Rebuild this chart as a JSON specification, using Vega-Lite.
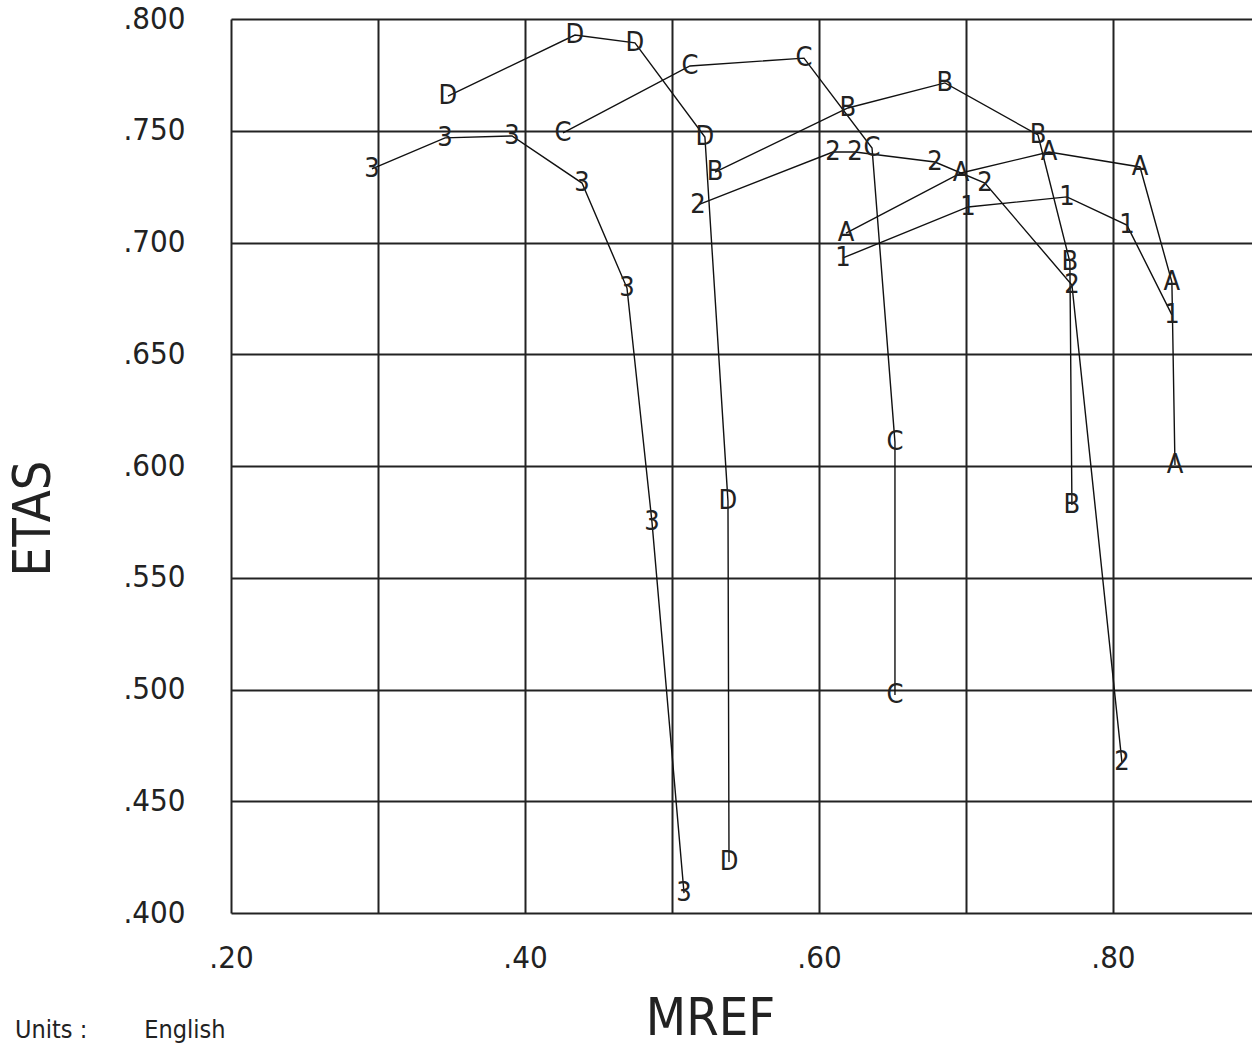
{
  "$schema": "https://vega.github.io/schema/vega-lite/v6.json",
  "autosize": "none",
  "width": 1021,
  "height": 894,
  "padding": {"left": 231, "top": 19, "right": 0, "bottom": 133},
  "background": "white",
  "config": {
    "view": {"stroke": null},
    "font": "Liberation Sans Narrow, DejaVu Sans Condensed, Roboto Condensed, Roboto, sans-serif"
  },
  "title": {
    "text": "Units :\u00a0\u00a0\u00a0\u00a0\u00a0\u00a0\u00a0 English",
    "orient": "bottom",
    "anchor": "start",
    "frame": "group",
    "dx": -216,
    "dy": -26,
    "offset": 0,
    "fontSize": 25,
    "fontWeight": "normal",
    "color": "#222"
  },
  "data": {
    "values": [
      {"s": "1", "i": 1, "x": 0.6163, "y": 0.6931},
      {"s": "1", "i": 2, "x": 0.7014, "y": 0.7159},
      {"s": "1", "i": 3, "x": 0.7687, "y": 0.7204},
      {"s": "1", "i": 4, "x": 0.8095, "y": 0.7078},
      {"s": "1", "i": 5, "x": 0.8401, "y": 0.6676},
      {"s": "2", "i": 1, "x": 0.5177, "y": 0.7168},
      {"s": "2", "i": 2, "x": 0.6095, "y": 0.7405},
      {"s": "2", "i": 3, "x": 0.6245, "y": 0.7405},
      {"s": "2", "i": 4, "x": 0.6789, "y": 0.736},
      {"s": "2", "i": 5, "x": 0.7129, "y": 0.7266},
      {"s": "2", "i": 6, "x": 0.7721, "y": 0.681},
      {"s": "2", "i": 7, "x": 0.8061, "y": 0.4676},
      {"s": "3", "i": 1, "x": 0.2959, "y": 0.7329},
      {"s": "3", "i": 2, "x": 0.3456, "y": 0.7468},
      {"s": "3", "i": 3, "x": 0.3912, "y": 0.7477},
      {"s": "3", "i": 4, "x": 0.4388, "y": 0.7266},
      {"s": "3", "i": 5, "x": 0.4694, "y": 0.6796},
      {"s": "3", "i": 6, "x": 0.4864, "y": 0.5749},
      {"s": "3", "i": 7, "x": 0.5082, "y": 0.4089},
      {"s": "A", "i": 1, "x": 0.6184, "y": 0.7042},
      {"s": "A", "i": 2, "x": 0.6966, "y": 0.7311},
      {"s": "A", "i": 3, "x": 0.7565, "y": 0.7405},
      {"s": "A", "i": 4, "x": 0.8184, "y": 0.7338},
      {"s": "A", "i": 5, "x": 0.8401, "y": 0.6823},
      {"s": "A", "i": 6, "x": 0.8422, "y": 0.6004},
      {"s": "B", "i": 1, "x": 0.5293, "y": 0.7315},
      {"s": "B", "i": 2, "x": 0.6197, "y": 0.7602},
      {"s": "B", "i": 3, "x": 0.6857, "y": 0.7714},
      {"s": "B", "i": 4, "x": 0.749, "y": 0.7481},
      {"s": "B", "i": 5, "x": 0.7707, "y": 0.6913},
      {"s": "B", "i": 6, "x": 0.7721, "y": 0.5826},
      {"s": "C", "i": 1, "x": 0.4259, "y": 0.749},
      {"s": "C", "i": 2, "x": 0.5122, "y": 0.779},
      {"s": "C", "i": 3, "x": 0.5898, "y": 0.7825},
      {"s": "C", "i": 4, "x": 0.6361, "y": 0.7423},
      {"s": "C", "i": 5, "x": 0.6517, "y": 0.6107},
      {"s": "C", "i": 6, "x": 0.6517, "y": 0.4975},
      {"s": "D", "i": 1, "x": 0.3476, "y": 0.7655},
      {"s": "D", "i": 2, "x": 0.434, "y": 0.7928},
      {"s": "D", "i": 3, "x": 0.4748, "y": 0.7893},
      {"s": "D", "i": 4, "x": 0.5224, "y": 0.7472},
      {"s": "D", "i": 5, "x": 0.5381, "y": 0.5843},
      {"s": "D", "i": 6, "x": 0.5388, "y": 0.4228}
    ]
  },
  "encoding": {
    "x": {
      "field": "x",
      "type": "quantitative",
      "scale": {"domain": [0.2, 0.8946], "nice": false, "zero": false},
      "axis": {
        "title": "MREF",
        "values": [0.2, 0.3, 0.4, 0.5, 0.6, 0.7, 0.8],
        "labelExpr": "round(datum.value * 10) % 2 == 0 ? replace(format(datum.value, '.2f'), '0.', '.') : ''",
        "domain": false,
        "ticks": false,
        "grid": true,
        "gridColor": "#222",
        "gridWidth": 2,
        "gridOpacity": 1,
        "labelFontSize": 31,
        "labelColor": "#222",
        "labelPadding": 30,
        "labelFlush": false,
        "labelOverlap": false,
        "titleFontSize": 52,
        "titleFontWeight": "normal",
        "titleColor": "#222",
        "titleX": 479,
        "titleY": 105,
        "titleAnchor": null,
        "titleAlign": "center",
        "titleBaseline": "middle"
      }
    },
    "y": {
      "field": "y",
      "type": "quantitative",
      "scale": {"domain": [0.4, 0.8], "nice": false, "zero": false},
      "axis": {
        "title": "ETAS",
        "values": [0.4, 0.45, 0.5, 0.55, 0.6, 0.65, 0.7, 0.75, 0.8],
        "labelExpr": "replace(format(datum.value, '.3f'), '0.', '.')",
        "domain": false,
        "ticks": false,
        "grid": true,
        "gridColor": "#222",
        "gridWidth": 2,
        "gridOpacity": 1,
        "labelFontSize": 31,
        "labelColor": "#222",
        "labelPadding": 46,
        "labelFlush": false,
        "labelOverlap": false,
        "titleFontSize": 52,
        "titleFontWeight": "normal",
        "titleColor": "#222",
        "titleX": -198,
        "titleY": 499,
        "titleAngle": 270,
        "titleAlign": "center",
        "titleBaseline": "middle"
      }
    }
  },
  "layer": [
    {
      "mark": {"type": "line", "color": "#111", "strokeWidth": 1.4, "clip": true},
      "encoding": {
        "detail": {"field": "s"},
        "order": {"field": "i", "type": "quantitative"}
      }
    },
    {
      "mark": {"type": "text", "fontSize": 27, "color": "#222", "align": "center", "baseline": "middle"},
      "encoding": {
        "text": {"field": "s"}
      }
    }
  ]
}
